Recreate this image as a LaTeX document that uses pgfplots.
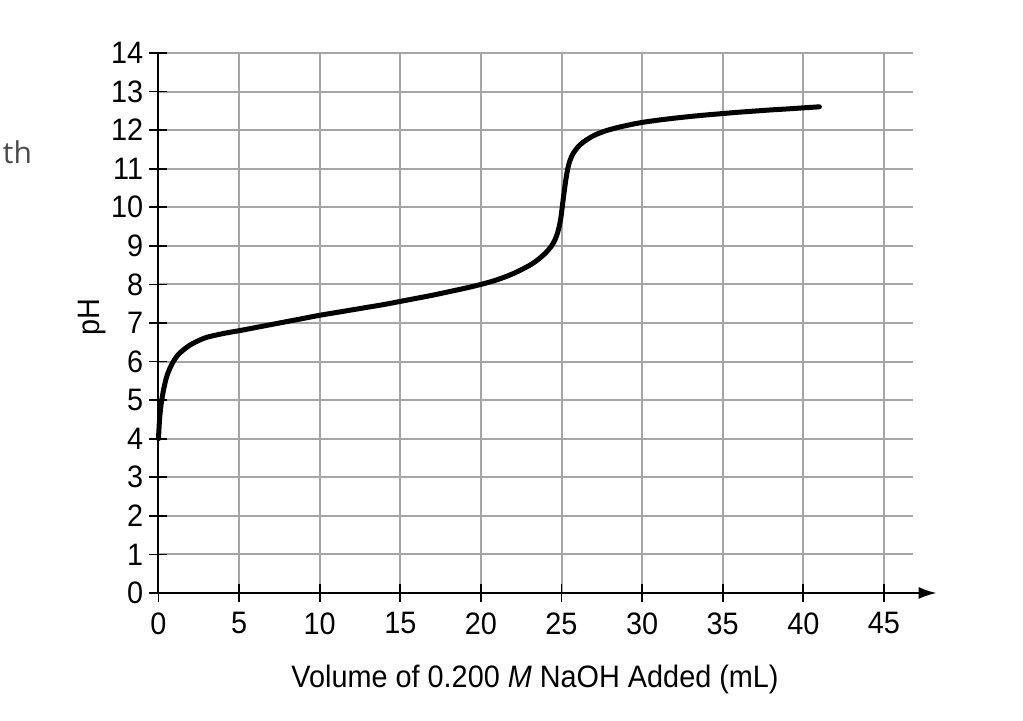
\documentclass[border=0pt]{standalone}
\usepackage{pgfplots}
\pgfplotsset{compat=1.18}
\usepackage{fontspec}
\setmainfont{Liberation Sans}[FakeStretch=0.93]
\newfontfamily\othfont{Open Sans}
\usetikzlibrary{arrows.meta}
\pgfplotstableread{
x y
0.0 4.0
0.05 4.4
0.12 4.75
0.2 5.0
0.33 5.3
0.5 5.6
0.7 5.82
0.92 6.0
1.2 6.17
1.54 6.3
2.0 6.44
2.57 6.56
3.0 6.63
3.6 6.69
4.3 6.75
5.0 6.8
6.0 6.88
7.0 6.96
8.0 7.04
9.0 7.12
10.0 7.2
11.0 7.27
12.0 7.34
13.0 7.41
14.0 7.48
15.0 7.56
16.0 7.64
17.0 7.72
18.0 7.81
19.0 7.9
20.0 8.0
21.0 8.12
22.0 8.28
23.0 8.49
23.5 8.63
24.0 8.81
24.35 8.98
24.6 9.16
24.8 9.4
24.95 9.7
25.05 10.02
25.15 10.35
25.25 10.66
25.35 10.92
25.47 11.14
25.63 11.32
25.84 11.47
26.15 11.62
26.56 11.75
27.1 11.88
27.8 11.99
28.5 12.07
29.25 12.14
30.0 12.2
31.0 12.26
32.0 12.31
33.0 12.355
34.0 12.395
35.0 12.43
36.0 12.465
37.0 12.495
38.0 12.525
39.0 12.55
40.0 12.578
41.0 12.605
}\curve
\begin{document}
\fontsize{15.5}{18}\selectfont
\begin{tikzpicture}
\path[use as bounding box] (-79.25pt,-64pt) rectangle (432.25pt,296.5pt);
\begin{axis}[
 anchor=south west, at={(0pt,0pt)},
 x=8.06pt, y=19.285pt,
 xmin=0, xmax=46.8, ymin=0, ymax=14,
 axis line style={draw=none},
 xtick={0,5,...,45}, ytick={0,1,...,14},
 xtick pos=left, ytick pos=left,
 tick align=center, major tick length=9pt,
 tick style={black, line width=0.9pt},
 grid=major, major grid style={black!35, line width=1pt},
 clip=false,
 tick label style={font=\fontsize{15.5}{18}\selectfont},
 /pgf/number format/assume math mode=true,
 xticklabel style={inner sep=0pt, anchor=north, yshift=-5pt},
 yticklabel style={inner sep=0pt, anchor=east, xshift=-3pt},
]
\addplot[black, line width=2.5pt, line cap=round, line join=round, smooth, tension=0.5] table[x=x,y=y] {\curve};
\draw[black, line width=1pt, -{Latex[length=9pt,width=6pt]}] (axis cs:-0.4,0) -- (axis cs:48.27,0);
\draw[black, line width=1pt] (axis cs:0,0) -- (axis cs:0,14);
\node at (axis cs:23.36,-2.23) {Volume of 0.200 \textit{M} NaOH Added (mL)};
\node[rotate=90] at (axis cs:-4.13,7.16) {pH};
\node[text=black!70, font=\othfont\fontsize{15}{18}\selectfont] at (axis cs:-8.75,11.43) {th};
\end{axis}
\end{tikzpicture}
\end{document}
